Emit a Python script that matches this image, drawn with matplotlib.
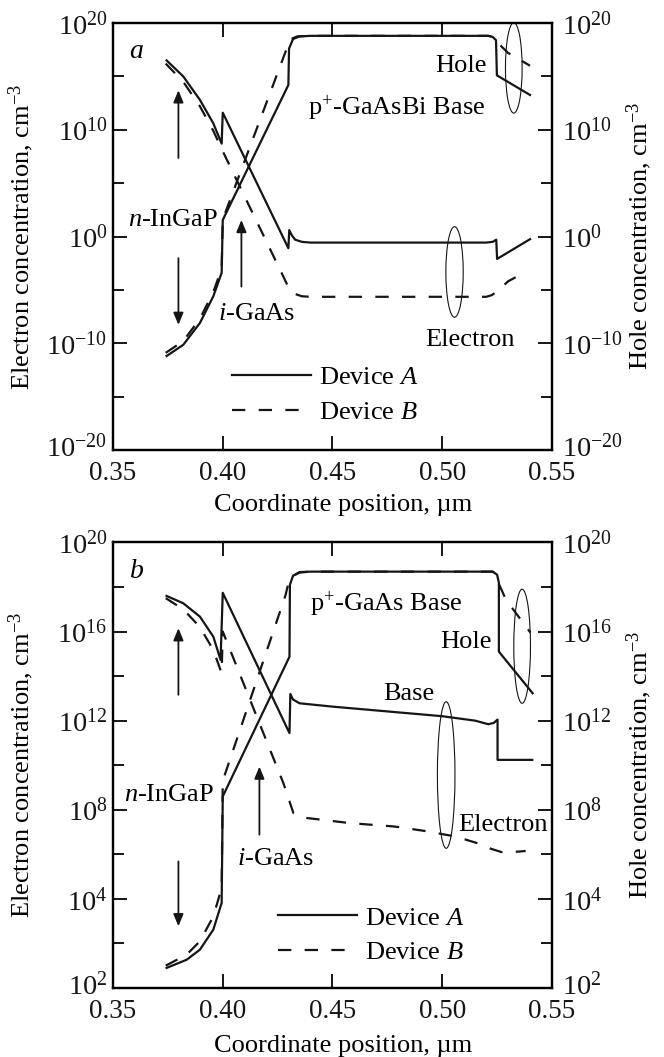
import matplotlib
matplotlib.use("Agg")
import matplotlib.pyplot as plt
from matplotlib.patches import Ellipse
from matplotlib.ticker import NullFormatter
from matplotlib.transforms import ScaledTranslation

plt.rcParams["font.family"] = "Liberation Serif"
plt.rcParams["mathtext.fontset"] = "custom"
plt.rcParams["mathtext.rm"] = "Liberation Serif"
plt.rcParams["mathtext.it"] = "Liberation Serif:italic"
plt.rcParams["mathtext.bf"] = "Liberation Serif:bold"
plt.rcParams["font.size"] = 19

# ---- data: x in um, y as log10 of concentration (cm^-3) ----
x_ticks = [0.35, 0.40, 0.45, 0.50, 0.55]
x_tick_labels = ["0.35", "0.40", "0.45", "0.50", "0.55"]

a_major = [-20, -10, 0, 10, 20]
a_minor = [-15, -5, 5, 15]
a_labels = ["$10^{-20}$", "$10^{-10}$", "$10^{0}$", "$10^{10}$", "$10^{20}$"]

b_major = [0, 4, 8, 12, 16, 20]
b_minor = [2, 6, 10, 14, 18]
b_labels = ["$10^{2}$", "$10^{4}$", "$10^{8}$", "$10^{12}$", "$10^{16}$", "$10^{20}$"]

# panel a (GaAsBi base)
a_elA_x = [0.3744, 0.382, 0.3896, 0.3957, 0.3995, 0.4000, 0.4299, 0.4303, 0.4315, 0.4330,
           0.4360, 0.4400, 0.5200, 0.5230, 0.5246, 0.5250, 0.5400]
a_elA_y = [16.5, 15.0, 12.8, 10.6, 8.7, 11.6, -1.1, 0.6, 0.1, -0.3,
           -0.5, -0.57, -0.57, -0.5, -0.3, -2.1, -0.25]
a_elB_x = [0.3740, 0.382, 0.3896, 0.3957, 0.3995, 0.4276, 0.4300, 0.4325, 0.4360, 0.4400,
           0.5200, 0.5225, 0.5250, 0.5300, 0.5354, 0.5385]
a_elB_y = [16.2, 14.5, 12.2, 9.9, 8.2, -3.75, -4.8, -5.35, -5.6, -5.65,
           -5.65, -5.5, -5.15, -4.2, -3.6, -3.2]
a_hoA_x = [0.3744, 0.382, 0.3896, 0.3957, 0.3995, 0.4000, 0.4299, 0.4302, 0.4320, 0.4350,
           0.4400, 0.5210, 0.5230, 0.5245, 0.5249, 0.5400]
a_hoA_y = [-11.2, -10.15, -8.1, -5.6, -3.4, 1.55, 14.2, 17.6, 18.5, 18.75,
           18.8, 18.8, 18.7, 18.4, 15.1, 13.26]
a_hoB_x = [0.3740, 0.382, 0.3896, 0.3957, 0.3995, 0.4000, 0.4295, 0.4310, 0.4340, 0.4400,
           0.5210, 0.5230, 0.5245, 0.5270, 0.5300, 0.5350, 0.5400]
a_hoB_y = [-10.9, -9.8, -7.7, -5.2, -3.0, 1.6, 17.8, 18.5, 18.75, 18.8,
           18.8, 18.7, 18.5, 17.8, 17.2, 16.6, 16.0]

# panel b (GaAs base)
b_elA_x = [0.3744, 0.382, 0.3896, 0.3957, 0.3990, 0.4000, 0.4304, 0.4308, 0.4320, 0.4350,
           0.4500, 0.5000, 0.5150, 0.5210, 0.5235, 0.5252, 0.5252, 0.5410]
b_elA_y = [17.6, 17.27, 16.67, 15.77, 14.73, 17.74, 11.44, 13.2, 12.95, 12.78,
           12.63, 12.2, 12.0, 11.84, 11.9, 12.05, 10.24, 10.24]
b_elB_x = [0.3740, 0.382, 0.3896, 0.3957, 0.3995, 0.4000, 0.4276, 0.4322, 0.4384, 0.4580,
           0.4780, 0.4920, 0.5060, 0.5160, 0.5222, 0.5270, 0.5346, 0.5380]
b_elB_y = [17.5, 17.0, 16.2, 15.17, 14.13, 16.0, 9.2, 7.85, 7.63, 7.4,
           7.25, 7.05, 6.8, 6.5, 6.25, 6.1, 6.12, 6.15]
b_hoA_x = [0.3744, 0.3836, 0.3896, 0.3957, 0.3995, 0.4000, 0.4304, 0.4306, 0.4320, 0.4350,
           0.4400, 0.5230, 0.5250, 0.5258, 0.5258, 0.5412]
b_hoA_y = [0.9, 1.27, 1.72, 2.62, 3.82, 8.6, 14.87, 18.1, 18.5, 18.67,
           18.69, 18.69, 18.55, 18.2, 15.1, 13.23]
b_hoB_x = [0.3740, 0.3836, 0.3896, 0.3957, 0.3995, 0.4000, 0.4285, 0.4300, 0.4320, 0.4350,
           0.4400, 0.5230, 0.5245, 0.5260, 0.5287, 0.5325, 0.5402]
b_hoB_y = [1.0, 1.5, 2.1, 3.21, 4.49, 9.3, 17.6, 18.2, 18.5, 18.65,
           18.69, 18.69, 18.55, 18.1, 17.5, 16.97, 15.95]

LW = 1.6
DASH = (6, 6)
INK = "#151515"


def pw(v):
    return [10.0 ** t for t in v]


def setup(ax, ylo, yhi, major, minor, labels, right=False):
    ax.set_yscale("log")
    ax.set_xlim(0.35, 0.55)
    ax.set_ylim(10.0 ** ylo, 10.0 ** yhi)
    ax.set_yticks(pw(major))
    ax.set_yticklabels(labels, fontsize=20.5)
    ax.set_yticks(pw(minor), minor=True)
    ax.yaxis.set_minor_formatter(NullFormatter())
    ax.tick_params(which="both", direction="in", width=1.4, colors=INK)
    ax.tick_params(which="major", length=10)
    ax.tick_params(which="minor", length=8)
    if right:
        ax.tick_params(axis="y", which="both", left=False, right=True,
                       labelleft=False, labelright=True, pad=7)
    else:
        ax.set_xticks(x_ticks)
        ax.set_xticklabels(x_tick_labels, fontsize=19.5)
        ax.tick_params(axis="x", which="both", top=True, pad=8)
        ax.tick_params(axis="y", which="both", left=True, right=False, pad=4)
    for s in ax.spines.values():
        s.set_linewidth(1.6)
    # lift the lowest y label a little so it clears the x labels
    bottom = ax.yaxis.get_major_ticks()[0]
    shift = ScaledTranslation(0, 3 / 72, ax.figure.dpi_scale_trans)
    bottom.label1.set_transform(bottom.label1.get_transform() + shift)
    bottom.label2.set_transform(bottom.label2.get_transform() + shift)


def draw_panel(ax, curves):
    lines = []
    for xs, ys, dashed in curves:
        if dashed:
            ln, = ax.plot(xs, pw(ys), color=INK, lw=LW, dashes=DASH)
        else:
            ln, = ax.plot(xs, pw(ys), color=INK, lw=LW)
        lines.append(ln)
    return lines


def arrow(ax, x, y0, y1):
    ax.annotate("", xy=(x, 10.0 ** y1), xytext=(x, 10.0 ** y0),
                arrowprops=dict(arrowstyle="-|>,head_length=0.6,head_width=0.25",
                                mutation_scale=12, lw=1.3, color=INK,
                                shrinkA=0, shrinkB=0))


def ellipse(ax, cx, cy, w, h):
    ax.add_patch(Ellipse((cx, cy), w, h, transform=ax.transAxes, fill=False,
                         lw=0.8, color=INK))


fig = plt.figure(figsize=(6.64, 10.57), dpi=100)

# ---------------- panel a ----------------
axa = fig.add_axes([0.1702, 0.5743, 0.6611, 0.4039])
setup(axa, -20, 20, a_major, a_minor, a_labels)
axa2 = axa.twinx()
setup(axa2, -20, 20, a_major, a_minor, a_labels, right=True)
la = draw_panel(axa, [(a_elA_x, a_elA_y, False), (a_elB_x, a_elB_y, True),
                      (a_hoA_x, a_hoA_y, False), (a_hoB_x, a_hoB_y, True)])
axa.set_xlabel("Coordinate position, \u00b5m")
axa.xaxis.set_label_coords(0.525, -0.102)
axa.set_ylabel("Electron concentration, cm$^{-3}$")
axa.yaxis.set_label_coords(-0.176, 0.5)
axa2.set_ylabel("Hole concentration, cm$^{-3}$")
axa2.yaxis.set_label_coords(1.166, 0.5)

axa.text(0.3608, 10 ** 17.3, "$a$", ha="center", va="center", fontsize=20)
axa.text(0.398, 10 ** 0.99, "$n$-InGaP", ha="right", va="baseline")
axa.text(0.398, 10 ** -7.81, "$i$-GaAs", ha="left", va="baseline")
axa.text(0.439, 10 ** 11.39, "p$^{+}$-GaAsBi Base", ha="left", va="baseline")
axa.text(0.5204, 10 ** 15.44, "Hole", ha="right", va="baseline")
axa.text(0.4923, 10 ** -10.24, "Electron", ha="left", va="baseline")
arrow(axa, 0.3798, 7.36, 13.7)
arrow(axa, 0.3798, -2.03, -8.28)
arrow(axa, 0.4085, -4.7, 1.55)
ellipse(axa, 0.913, 0.895, 0.038, 0.212)
ellipse(axa, 0.778, 0.417, 0.0395, 0.212)
axa.legend([la[0], la[1]], ["Device $A$", "Device $B$"], loc="upper left",
           bbox_to_anchor=(0.27, 0.197), frameon=False, handlelength=3.0,
           handletextpad=0.3, labelspacing=0.42, borderpad=0, borderaxespad=0)

# ---------------- panel b ----------------
axb = fig.add_axes([0.1702, 0.0653, 0.6611, 0.4215])
setup(axb, 0, 20, b_major, b_minor, b_labels)
axb2 = axb.twinx()
setup(axb2, 0, 20, b_major, b_minor, b_labels, right=True)
lb = draw_panel(axb, [(b_elA_x, b_elA_y, False), (b_elB_x, b_elB_y, True),
                      (b_hoA_x, b_hoA_y, False), (b_hoB_x, b_hoB_y, True)])
axb.set_xlabel("Coordinate position, \u00b5m")
axb.xaxis.set_label_coords(0.525, -0.105)
axb.set_ylabel("Electron concentration, cm$^{-3}$")
axb.yaxis.set_label_coords(-0.176, 0.5)
axb2.set_ylabel("Hole concentration, cm$^{-3}$")
axb2.yaxis.set_label_coords(1.166, 0.5)

axb.text(0.3608, 10 ** 18.69, "$b$", ha="center", va="center", fontsize=20)
axb.text(0.396, 10 ** 8.4, "$n$-InGaP", ha="right", va="baseline")
axb.text(0.4064, 10 ** 5.53, "$i$-GaAs", ha="left", va="baseline")
axb.text(0.4397, 10 ** 16.89, "p$^{+}$-GaAs Base", ha="left", va="baseline")
axb.text(0.5227, 10 ** 15.25, "Hole", ha="right", va="baseline")
axb.text(0.4733, 10 ** 12.93, "Base", ha="left", va="baseline")
axb.text(0.5073, 10 ** 7.03, "Electron", ha="left", va="baseline")
arrow(axb, 0.3798, 13.16, 16.15)
arrow(axb, 0.3798, 5.68, 2.77)
arrow(axb, 0.4167, 6.88, 9.94)
ellipse(axb, 0.932, 0.767, 0.038, 0.256)
ellipse(axb, 0.759, 0.478, 0.040, 0.329)
axb.legend([lb[0], lb[1]], ["Device $A$", "Device $B$"], loc="upper left",
           bbox_to_anchor=(0.3765, 0.1835), frameon=False, handlelength=3.0,
           handletextpad=0.3, labelspacing=0.42, borderpad=0, borderaxespad=0)

fig.savefig("out.png", dpi=100)
